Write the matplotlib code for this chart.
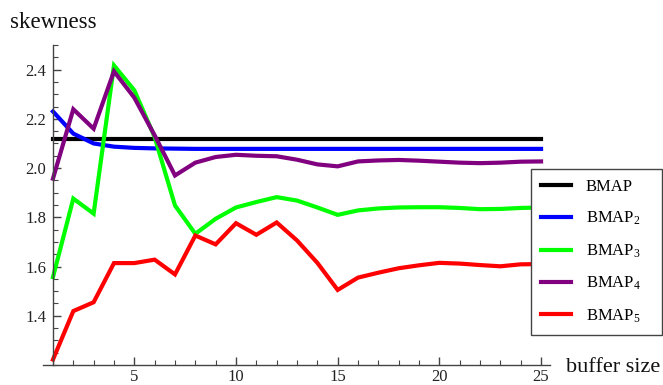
import matplotlib
matplotlib.use("Agg")
import matplotlib.pyplot as plt
from matplotlib.ticker import MultipleLocator, FixedLocator

plt.rcParams['font.family'] = ['Liberation Serif', 'DejaVu Serif']
plt.rcParams['mathtext.fontset'] = 'custom'
plt.rcParams['mathtext.rm'] = 'Liberation Serif'
plt.rcParams['mathtext.it'] = 'Liberation Serif:italic'

buffer_size = list(range(1, 26))
bmap = [2.12] * 25
bmap2 = [2.23, 2.14, 2.10, 2.087, 2.082, 2.080, 2.079, 2.078, 2.078, 2.078,
         2.078, 2.078, 2.078, 2.078, 2.078, 2.078, 2.078, 2.078, 2.078, 2.078,
         2.078, 2.078, 2.078, 2.078, 2.078]
bmap3 = [1.557, 1.876, 1.815, 2.417, 2.316, 2.126, 1.848, 1.733, 1.794, 1.840,
         1.862, 1.882, 1.868, 1.840, 1.810, 1.828, 1.836, 1.840, 1.841, 1.841,
         1.838, 1.833, 1.834, 1.838, 1.840]
bmap4 = [1.957, 2.239, 2.160, 2.393, 2.286, 2.133, 1.970, 2.022, 2.045, 2.054,
         2.050, 2.048, 2.034, 2.015, 2.007, 2.027, 2.031, 2.033, 2.030, 2.026,
         2.022, 2.020, 2.022, 2.026, 2.027]
bmap5 = [1.222, 1.419, 1.455, 1.614, 1.614, 1.628, 1.568, 1.726, 1.690, 1.776,
         1.729, 1.779, 1.706, 1.615, 1.505, 1.555, 1.575, 1.593, 1.605, 1.615,
         1.612, 1.606, 1.601, 1.609, 1.610]

series = [
    (bmap, 'BMAP', '#000000'),
    (bmap2, r'BMAP$_{\mathrm{2}}$', '#0000ff'),
    (bmap3, r'BMAP$_{\mathrm{3}}$', '#00ff00'),
    (bmap4, r'BMAP$_{\mathrm{4}}$', '#800080'),
    (bmap5, r'BMAP$_{\mathrm{5}}$', '#ff0000'),
]

x_major = [5, 10, 15, 20, 25]
y_major = [1.4, 1.6, 1.8, 2.0, 2.2, 2.4]

fig = plt.figure(figsize=(6.63, 3.85), dpi=100)
ax = fig.add_axes([43/663, 20/385, (550-43)/663, (365-45)/385])

handles = []
for vals, lab, col in series:
    h, = ax.plot(buffer_size, vals, color=col, lw=3.0, label=lab,
                 solid_joinstyle='miter', clip_on=False)
    handles.append(h)

ax.set_xlim(0.51, 25.44)
ax.set_ylim(1.2, 2.5)

for s in ['top', 'right']:
    ax.spines[s].set_visible(False)
ax.spines['left'].set_position(('data', 1))
axcol = '#444444'
for s in ['left', 'bottom']:
    ax.spines[s].set_color(axcol)
    ax.spines[s].set_linewidth(1.0)
ax.spines['left'].set_bounds(1.2, 2.5)

ax.xaxis.set_major_locator(FixedLocator(x_major))
ax.xaxis.set_minor_locator(MultipleLocator(1))
ax.yaxis.set_major_locator(FixedLocator(y_major))
ax.yaxis.set_minor_locator(MultipleLocator(0.05))
ax.set_xticklabels([str(v) for v in x_major])
ax.set_yticklabels([f"{v:.1f}" for v in y_major])

ax.tick_params(axis='both', which='major', direction='in', length=6, width=1,
               color=axcol, labelsize=12, labelcolor='#222222')
ax.tick_params(axis='both', which='minor', direction='in', length=3.5, width=0.8,
               color=axcol)
ax.tick_params(axis='x', which='major', pad=3)
ax.tick_params(axis='y', which='major', pad=5)

fig.text(10/663, 1 - 28/385, 'skewness', fontsize=16.5, va='baseline', ha='left',
         color='#111111')
fig.text(566/663, 1 - 372/385, 'buffer size', fontsize=16, va='baseline', ha='left',
         color='#111111')

leg = fig.legend(handles=handles, loc='upper left', mode='expand',
                 bbox_to_anchor=(531/663, 1 - 334/385, 131/663, 165/385),
                 borderaxespad=0,
                 fontsize=12, frameon=True, fancybox=False, handlelength=1.8,
                 handletextpad=0.9, labelspacing=0.9, borderpad=0.6)
frame = leg.get_frame()
frame.set_edgecolor('#444444')
frame.set_linewidth(1.0)
frame.set_facecolor('white')
frame.set_alpha(1)

fig.savefig('out.png', dpi=100)
